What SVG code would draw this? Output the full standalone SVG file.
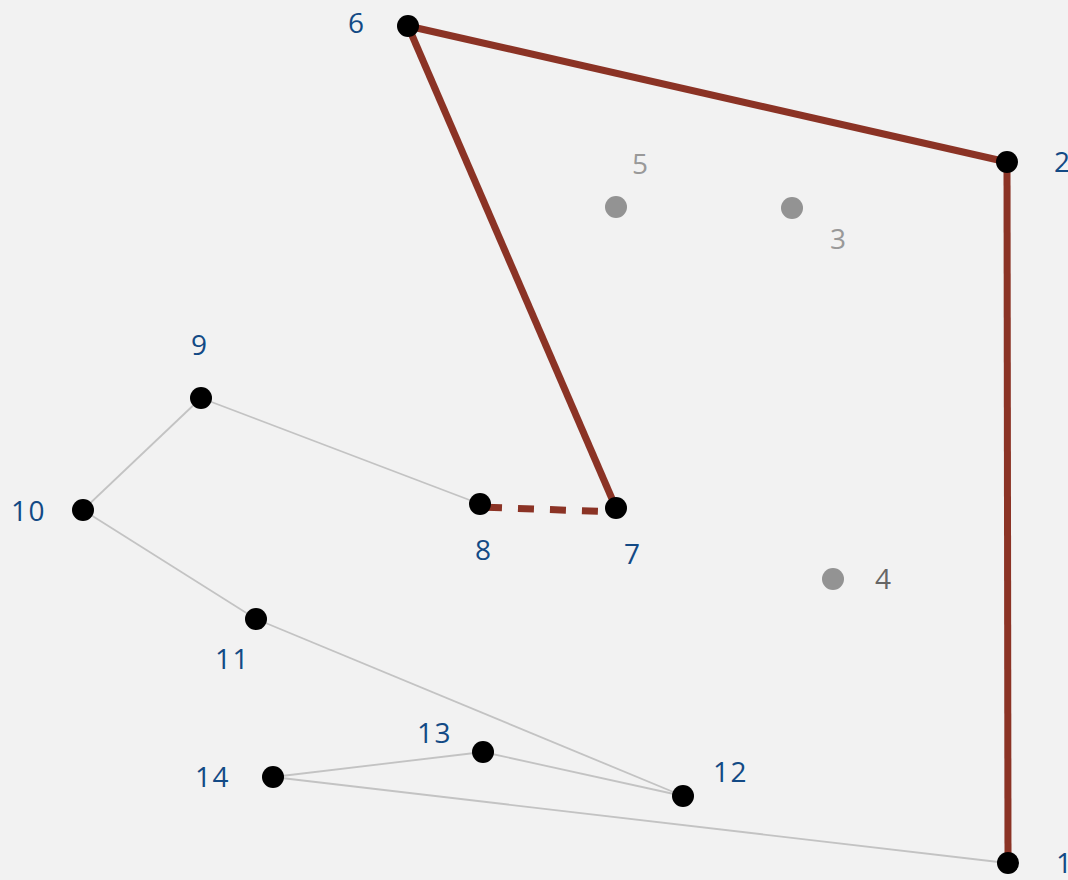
<svg xmlns="http://www.w3.org/2000/svg" width="1068" height="880" viewBox="0 0 1068 880">
<style>
.lbl{font-family:"Open Sans","Liberation Sans",sans-serif;font-size:28px;fill:#134a85;letter-spacing:1.5px}
.lg{fill:#999999}
.ld{fill:#666666}
.n{fill:#000000}
.g{fill:#939393}
.red{stroke:#8b3325;stroke-width:7;fill:none;stroke-linecap:butt}
.gry{stroke:#c3c3c3;stroke-width:1.8;fill:none}
</style>
<rect width="1068" height="880" fill="#f2f2f2"/>
<g id="connectors">
<line class="gry" x1="201" y1="398" x2="480" y2="504"/>
<line class="gry" x1="201" y1="398" x2="83" y2="510"/>
<line class="gry" x1="83" y1="510" x2="256" y2="619"/>
<line class="gry" x1="256" y1="619" x2="683" y2="796"/>
<line class="gry" x1="683" y1="796" x2="483" y2="752"/>
<line class="gry" x1="483" y1="752" x2="273" y2="777"/>
<line class="gry" x1="273" y1="777" x2="1007" y2="863"/>
<line class="red" x1="408" y1="26" x2="1007" y2="162"/>
<line class="red" x1="1007" y1="162" x2="1008" y2="863"/>
<line class="red" x1="408" y1="26" x2="616" y2="508"/>
<line class="red" x1="480" y1="507" x2="616" y2="512" stroke-dasharray="16 16" stroke-dashoffset="26"/>
</g>
<g id="n1"><circle class="n" cx="1008" cy="863" r="11"/><text class="lbl" x="1056" y="873">1</text></g>
<g id="n2"><circle class="n" cx="1007" cy="162" r="11"/><text class="lbl" x="1054" y="172">2</text></g>
<g id="n3"><circle class="g" cx="792" cy="208" r="11"/><text class="lbl lg" x="830" y="249">3</text></g>
<g id="n4"><circle class="g" cx="833" cy="579" r="11"/><text class="lbl ld" x="875" y="589">4</text></g>
<g id="n5"><circle class="g" cx="616" cy="207" r="11"/><text class="lbl lg" x="632" y="174">5</text></g>
<g id="n6"><circle class="n" cx="408" cy="26" r="11"/><text class="lbl" x="348" y="33">6</text></g>
<g id="n7"><circle class="n" cx="616" cy="508" r="11"/><text class="lbl" x="624" y="564">7</text></g>
<g id="n8"><circle class="n" cx="480" cy="504" r="11"/><text class="lbl" x="475" y="560">8</text></g>
<g id="n9"><circle class="n" cx="201" cy="398" r="11"/><text class="lbl" x="191" y="355">9</text></g>
<g id="n10"><circle class="n" cx="83" cy="510" r="11"/><text class="lbl" x="11" y="521">10</text></g>
<g id="n11"><circle class="n" cx="256" cy="619" r="11"/><text class="lbl" x="215" y="669">11</text></g>
<g id="n12"><circle class="n" cx="683" cy="796" r="11"/><text class="lbl" x="713" y="782">12</text></g>
<g id="n13"><circle class="n" cx="483" cy="752" r="11"/><text class="lbl" x="417" y="743">13</text></g>
<g id="n14"><circle class="n" cx="273" cy="777" r="11"/><text class="lbl" x="195" y="787">14</text></g>
</svg>
